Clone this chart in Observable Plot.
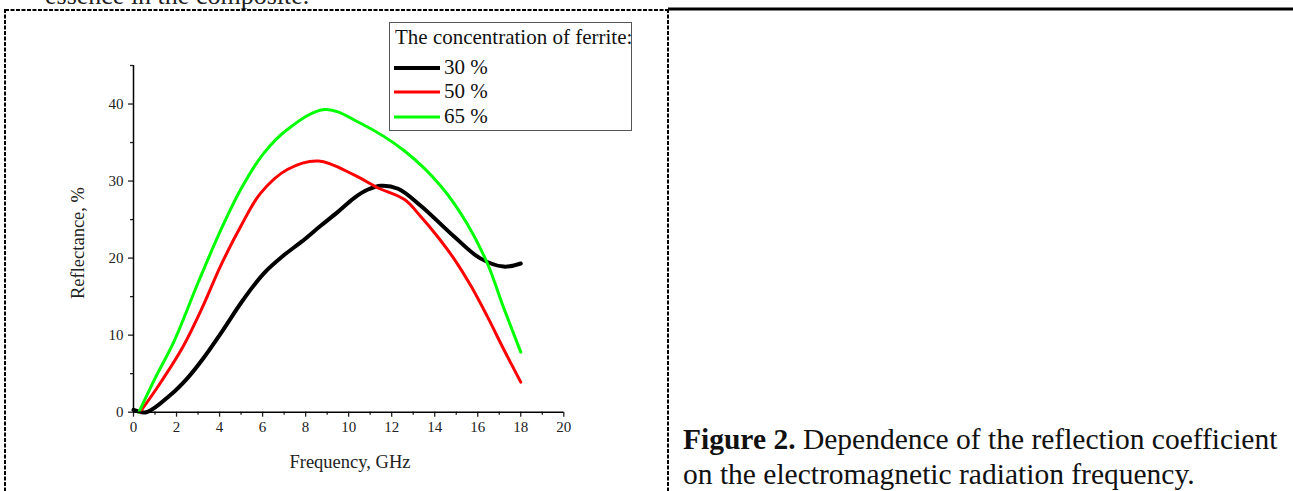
<!DOCTYPE html>
<html>
<head>
<meta charset="utf-8">
<script src="https://cdn.jsdelivr.net/npm/d3@7"></script>
<script src="https://cdn.jsdelivr.net/npm/@observablehq/plot@0.6"></script>
<style>
  html, body { margin: 0; padding: 0; background: #fff; }
  body { width: 1293px; height: 491px; position: relative; overflow: hidden; font-family: "Liberation Serif", "DejaVu Serif", serif; }
  .abs { position: absolute; }
  #frame { position: absolute; left: 0; top: 0; }
  #chart { position: absolute; left: 0; top: 0; }
  #chart g[aria-label="x-axis tick label"], #chart g[aria-label="y-axis tick label"] { font-size: 15px !important; }
  #chart text { font-size: 15px !important; }
  #legend { left: 389px; top: 22px; width: 243px; height: 109px; border: 1px solid #555; box-sizing: border-box; background: #fff; color: #111; font-size: 21px; }
  #legend .title { position: absolute; left: 5px; top: 1px; white-space: nowrap; line-height: 26px; }
  #legend .row { position: absolute; left: 3px; height: 24px; white-space: nowrap; }
  #legend .row svg { position: absolute; left: 0; top: 0; }
  #legend .row span { position: absolute; left: 51px; top: 0; line-height: 24px; }
  .axlabel { font-size: 18.5px; color: #222; white-space: nowrap; }
  #caption { left: 683px; top: 422px; font-size: 29.5px; line-height: 35px; color: #111; white-space: nowrap; }
</style>
</head>
<body>
<script>
// ---- data ----
const seriesNames = ["30 %", "50 %", "65 %"];
const seriesColors = ["#000000", "#ff0000", "#00ff00"];
const freq30 = [0, 0.6, 1.7, 2.5, 3.3, 4.05, 5.1, 6.05, 7.0, 7.8, 8.7, 9.5, 10.25, 10.9, 11.5, 12.3, 13.35, 14.9, 16.1, 17.2, 18];
const refl30 = [0.3, 0, 2.2, 4.4, 7.2, 10.2, 14.6, 18.0, 20.4, 22.1, 24.2, 26.0, 27.8, 28.9, 29.4, 29.0, 26.8, 22.8, 20.0, 18.9, 19.3];
const freq50 = [0.3, 1.2, 2.3, 3.2, 4.05, 5.0, 5.9, 7.15, 8.6, 10.25, 11.3, 12.6, 13.35, 14.1, 14.9, 15.7, 16.45, 17.2, 18];
const refl50 = [0, 3.6, 8.5, 13.6, 19.0, 24.2, 28.4, 31.5, 32.6, 30.8, 29.2, 27.6, 25.4, 22.9, 19.9, 16.3, 12.4, 8.2, 3.9];
const freq65 = [0.25, 0.95, 1.9, 3.0, 4.05, 5.0, 6.05, 7.15, 8.9, 10.55, 12.6, 14.3, 15.5, 16.45, 17.2, 18];
const refl65 = [0, 4.1, 9.3, 16.8, 23.6, 29.0, 33.6, 36.7, 39.3, 37.5, 33.9, 29.3, 24.5, 19.3, 13.6, 7.8];
const xMajorTicks = [0, 2, 4, 6, 8, 10, 12, 14, 16, 18, 20];
const xMinorTicks = [1, 3, 5, 7, 9, 11, 13, 15, 17, 19];
const yMajorTicks = [0, 10, 20, 30, 40];
const yMinorTicks = [5, 15, 25, 35, 45];
const xLabel = "Frequency, GHz";
const yLabel = "Reflectance, %";
const legendTitle = "The concentration of ferrite:";
const captionBold = "Figure 2.";
const captionText = " Dependence of the reflection coefficient";
const captionText2 = "on the electromagnetic radiation frequency.";
const prevText = "essence in the composite.";

const toRows = (xs, ys, name) => xs.map((x, i) => ({x, y: ys[i], name}));
const rows30 = toRows(freq30, refl30, seriesNames[0]);
const rows50 = toRows(freq50, refl50, seriesNames[1]);
const rows65 = toRows(freq65, refl65, seriesNames[2]);

// ---- page frame (table borders) ----
const NS = "http://www.w3.org/2000/svg";
const frame = document.createElementNS(NS, "svg");
frame.setAttribute("id", "frame");
frame.setAttribute("width", 1293);
frame.setAttribute("height", 491);
function ln(x1, y1, x2, y2, w, dash) {
  const l = document.createElementNS(NS, "line");
  l.setAttribute("x1", x1); l.setAttribute("y1", y1);
  l.setAttribute("x2", x2); l.setAttribute("y2", y2);
  l.setAttribute("stroke", "#000"); l.setAttribute("stroke-width", w);
  if (dash) l.setAttribute("stroke-dasharray", dash);
  frame.appendChild(l);
}
ln(5, 10, 668, 10, 2, "4,1.5");
ln(668, 9, 1293, 9, 3, null);
ln(5, 9, 5, 491, 2, "4,1.5");
ln(668, 9, 668, 491, 2, "4,1.5");
const pt = document.createElementNS(NS, "text");
pt.setAttribute("x", 45); pt.setAttribute("y", 4);
pt.setAttribute("font-size", 26);
pt.setAttribute("font-family", "Liberation Serif, serif");
pt.setAttribute("fill", "#222");
pt.textContent = prevText;
frame.appendChild(pt);
document.body.appendChild(frame);

// ---- chart ----
const chart = Plot.plot({
  width: 670,
  height: 491,
  marginLeft: 133,
  marginRight: 106.7,
  marginTop: 65,
  marginBottom: 79.3,
  style: {background: "transparent", fontFamily: "Liberation Serif, serif", color: "#222", fontSize: "15px"},
  x: {domain: [0, 20], axis: null},
  y: {domain: [0, 45], axis: null},
  marks: [
    Plot.axisX(xMajorTicks, {tickSize: 5, tickPadding: 4, fontSize: 15, label: null, tickFormat: d => String(d), strokeWidth: 1.3}),
    Plot.axisX(xMinorTicks, {tickSize: 3, label: null, tickFormat: () => "", strokeWidth: 1.3}),
    Plot.axisY(yMajorTicks, {tickSize: 5, tickPadding: 5, fontSize: 15, label: null, tickFormat: d => String(d), strokeWidth: 1.3}),
    Plot.axisY(yMinorTicks, {tickSize: 3, label: null, tickFormat: () => "", strokeWidth: 1.3}),
    Plot.line(rows30, {x: "x", y: "y", stroke: seriesColors[0], strokeWidth: 4, curve: "catmull-rom"}),
    Plot.line(rows50, {x: "x", y: "y", stroke: seriesColors[1], strokeWidth: 3, curve: "catmull-rom"}),
    Plot.line(rows65, {x: "x", y: "y", stroke: seriesColors[2], strokeWidth: 3, curve: "catmull-rom"}),
    Plot.ruleY([0], {stroke: "#000", strokeWidth: 1.5}),
    Plot.ruleX([0], {stroke: "#000", strokeWidth: 1.5})
  ]
});
chart.id = "chart";
chart.querySelectorAll("text").forEach(t => { t.style.fontSize = "15px"; t.setAttribute("font-size", "15"); });
document.body.appendChild(chart);

// axis titles
const xl = document.createElement("div");
xl.className = "abs axlabel"; xl.textContent = xLabel;
xl.style.left = "350px"; xl.style.top = "462px"; xl.style.transform = "translate(-50%, -50%)";
document.body.appendChild(xl);
const yl = document.createElement("div");
yl.className = "abs axlabel"; yl.textContent = yLabel;
yl.style.left = "78px"; yl.style.top = "243px"; yl.style.transform = "translate(-50%, -50%) rotate(-90deg)";
document.body.appendChild(yl);

// legend
const legend = document.createElement("div");
legend.className = "abs"; legend.id = "legend";
const lt = document.createElement("div");
lt.className = "title"; lt.textContent = legendTitle;
legend.appendChild(lt);
const rowTops = [32, 56, 81];
seriesNames.forEach((name, i) => {
  const r = document.createElement("div");
  r.className = "row"; r.style.top = rowTops[i] + "px"; r.style.width = "120px";
  r.innerHTML = `<svg width="50" height="24"><line x1="1" y1="13" x2="47" y2="13" stroke="${seriesColors[i]}" stroke-width="${i === 0 ? 4 : 3}"/></svg><span>${name}</span>`;
  legend.appendChild(r);
});
document.body.appendChild(legend);

// caption
const cap = document.createElement("div");
cap.className = "abs"; cap.id = "caption";
cap.innerHTML = `<b>${captionBold}</b>${captionText}<br>${captionText2}`;
document.body.appendChild(cap);
</script>
</body>
</html>
